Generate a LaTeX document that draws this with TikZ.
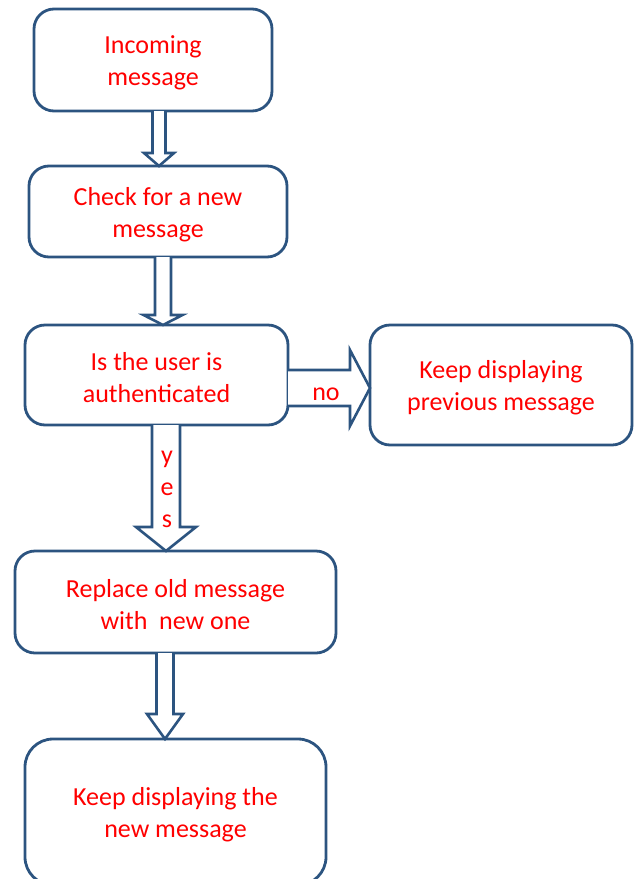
\documentclass[tikz,border=0pt]{standalone}
\usepackage{fontspec}
\setmainfont{Carlito}
\usetikzlibrary{calc}
\definecolor{dblue}{RGB}{44,84,128}
\definecolor{tred}{RGB}{255,0,0}
\newcommand{\tstrut}{\rule{0pt}{24pt}}
\tikzset{
  box/.style={draw=dblue, line width=2.8pt, fill=white, rounded corners=#1, inner sep=0pt, outer sep=0pt,
    text=tred, align=center, font=\fontsize{26pt}{32pt}\selectfont},
  box/.default=20pt,
  barrow/.style={draw=dblue, line width=2.6pt, fill=white, line join=miter},
  lbl/.style={text=tred, inner sep=0pt, align=center, font=\fontsize{26pt}{32pt}\selectfont}
}
% vertical block arrow: from node, to node, x centre, shaft half width, head half width, head length
\newcommand{\blockdown}[6]{%
  \draw[barrow] let \p1=(#1.south), \p2=(#2.north) in
   (#3pt-#4pt,\y1) -- (#3pt-#4pt,\y2+#6pt) -- (#3pt-#5pt,\y2+#6pt) -- (#3pt,\y2)
   -- (#3pt+#5pt,\y2+#6pt) -- (#3pt+#4pt,\y2+#6pt) -- (#3pt+#4pt,\y1);}
% horizontal block arrow: from node, to node, y centre (canvas, negative), shaft half, head half, head length
\newcommand{\blockright}[6]{%
  \draw[barrow] let \p1=(#1.east), \p2=(#2.west) in
   (\x1,#3pt+#4pt) -- (\x2-#6pt,#3pt+#4pt) -- (\x2-#6pt,#3pt+#5pt) -- (\x2,#3pt)
   -- (\x2-#6pt,#3pt-#5pt) -- (\x2-#6pt,#3pt-#4pt) -- (\x1,#3pt-#4pt);}
\begin{document}
\begin{tikzpicture}[x=1pt,y=-1pt]
\useasboundingbox (0,0) rectangle (638,879);
\clip (0,0) rectangle (638,879);
\node[box, minimum width=238pt, minimum height=102pt] (b1) at (153,60) {\tstrut Incoming\\message};
\node[box, minimum width=258pt, minimum height=91pt] (b2) at (158,211.5) {\tstrut Check for a new\\message};
\node[box, minimum width=263pt, minimum height=100pt] (b3) at (156.5,375) {\tstrut Is the user is\\authenticated};
\node[box, minimum width=262pt, minimum height=120pt] (b4) at (501,385) {\tstrut Keep displaying\\previous message};
\node[box, minimum width=321pt, minimum height=102pt] (b5) at (175.5,602) {\tstrut Replace old message\\with\ \ new one};
\node[box=28pt, minimum width=301pt, minimum height=146pt] (b6) at (175.5,812) {\tstrut Keep displaying the\\new message};
\blockdown{b1}{b2}{159}{6.5}{15}{13}
\blockdown{b2}{b3}{163}{8}{19.5}{10}
\blockright{b3}{b4}{-388}{18}{38}{20}
\blockdown{b3}{b5}{166}{14}{30}{24}
\blockdown{b5}{b6}{165}{8.5}{18}{25}
\node[lbl] (no) at (326,394) {no};
\node[lbl] (yes) at (167,489) {y\\e\\s};
\end{tikzpicture}
\end{document}
